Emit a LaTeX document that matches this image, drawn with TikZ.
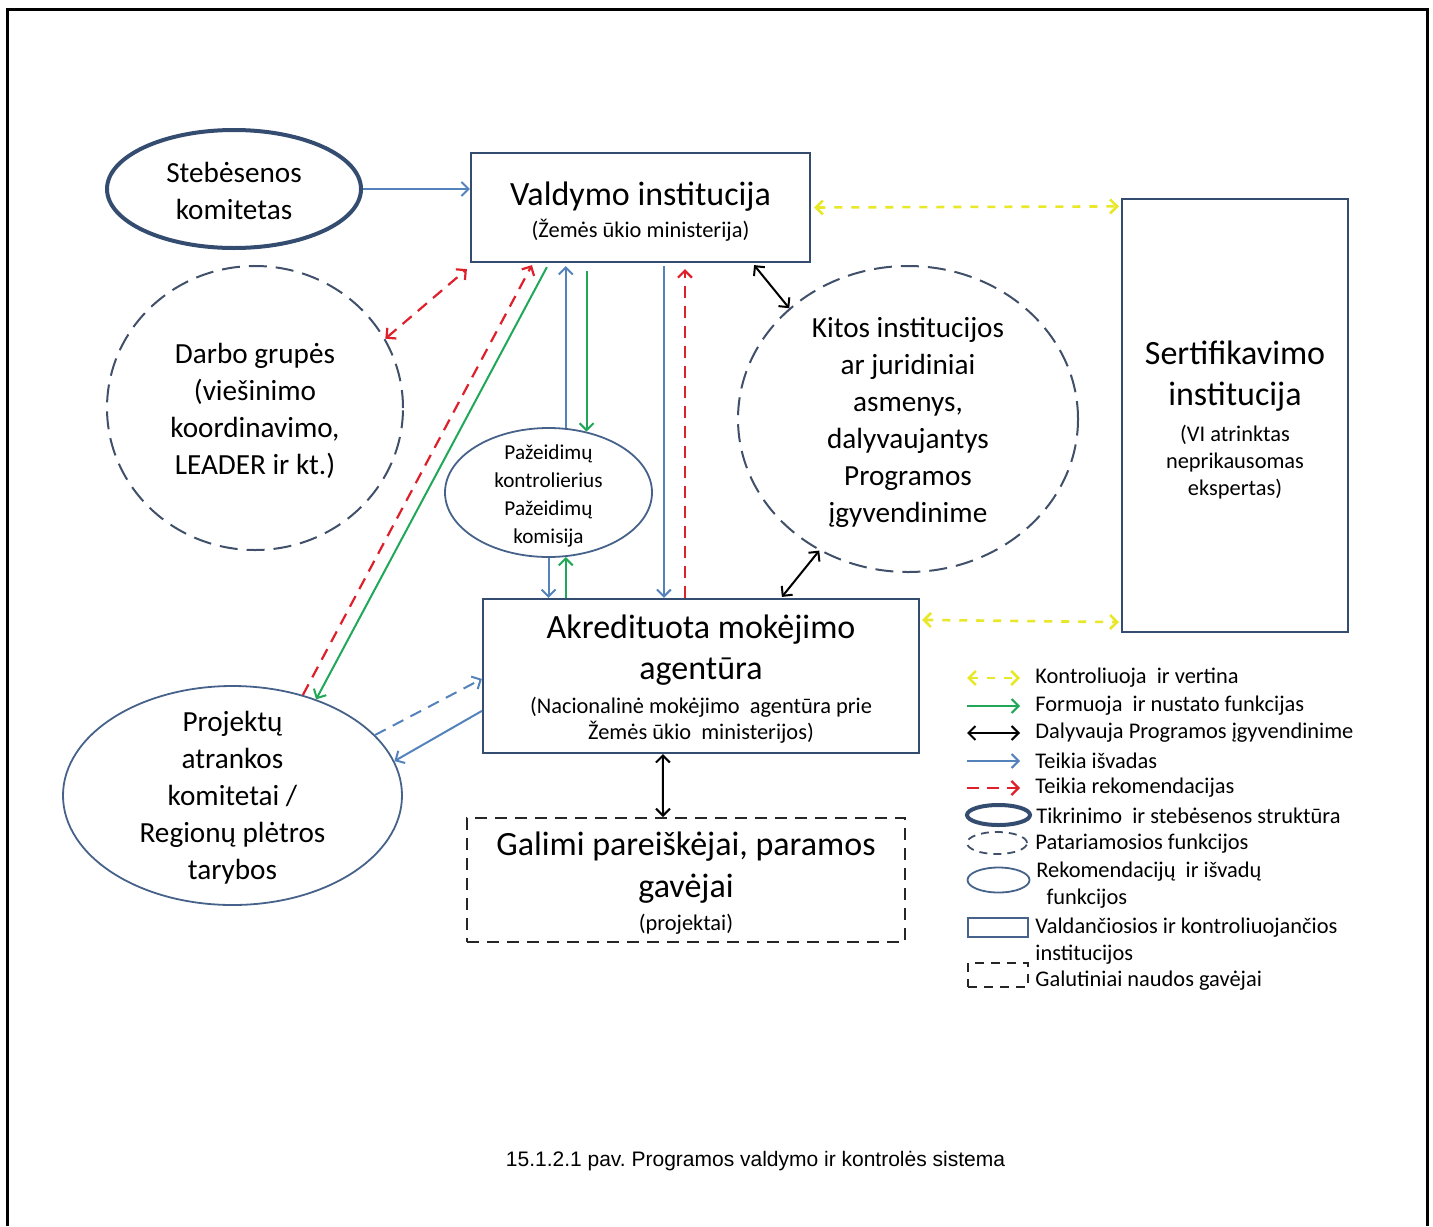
\documentclass[tikz,border=0pt]{standalone}
\usepackage{fontspec}
\setmainfont{Carlito}
\newfontfamily\capfont{Liberation Sans}
\usepackage{tikz}
\usetikzlibrary{positioning, arrows.meta, shapes.geometric}
\lineskiplimit=-100pt
\frenchspacing

\definecolor{frameblue}{RGB}{52,76,112}
\definecolor{thinblue}{RGB}{70,98,138}
\definecolor{arrblue}{RGB}{84,130,187}
\definecolor{dashgray}{RGB}{64,80,106}
\definecolor{okgreen}{RGB}{32,168,88}
\definecolor{recred}{RGB}{222,32,42}
\definecolor{ctrlyellow}{RGB}{232,232,40}

\newcommand{\fbig}{\fontsize{17}{20.5}\selectfont}
\newcommand{\fmid}{\fontsize{14.6}{18.5}\selectfont}
\newcommand{\fleg}{\fontsize{11.2}{13.5}\selectfont}

\tikzstyle{instbox}=[draw=frameblue, line width=1.1pt, rectangle, inner sep=0pt]
\tikzstyle{monell}=[draw=frameblue, line width=2pt, ellipse, inner sep=0pt]
\tikzstyle{advell}=[draw=dashgray, line width=1pt, dash pattern=on 9pt off 4.5pt, ellipse, inner sep=0pt]
\tikzstyle{recell}=[draw=thinblue, line width=0.9pt, ellipse, inner sep=0pt]
\tikzstyle{benbox}=[draw=black!85, line width=1pt, dash pattern=on 6pt off 4pt, rectangle, inner sep=0pt]
\tikzstyle{txt}=[align=center, inner sep=0pt]
\tikzstyle{legtxt}=[anchor=west, align=left, inner sep=0pt, font=\fleg]
\tikzstyle{ctrlarr}=[ctrlyellow, line width=1.3pt, dash pattern=on 4pt off 4.5pt]
\tikzstyle{formarr}=[okgreen, line width=1pt]
\tikzstyle{partarr}=[black, line width=1pt]
\tikzstyle{conclarr}=[arrblue, line width=1pt]
\tikzstyle{recomarr}=[recred, line width=1.1pt, dash pattern=on 6pt off 4pt]

\begin{document}
\begin{tikzpicture}[x=0.5pt, y=-0.5pt, >={Straight Barb[length=3.5pt,width=7pt]}]
\useasboundingbox (0,0) rectangle (1433,1226);
\draw[line width=1.5pt] (7,1226) -- (7,9) -- (1427,9) -- (1427,1226);

\node[instbox, minimum width=169.5pt, minimum height=54.5pt] (valdymo) at (640.5,207.5) {};
\node[txt, font=\fontsize{11.2}{16}\selectfont] (valdymotxt) at ([yshift=-2pt]valdymo.center) {{\fbig Valdymo institucija}\\(Žemės ūkio ministerija)};
\node[monell, minimum width=127pt, minimum height=59pt] (stebes) at (234,189) {};
\node[txt, font=\fmid] (stebestxt) at ([yshift=-1pt]stebes.center) {Stebėsenos\\komitetas};
\node[advell, minimum width=148pt, minimum height=142pt] (darbo) at (255,408) {};
\node[txt, font=\fmid] (darbotxt) at ([yshift=-1.5pt]darbo.center) {Darbo grupės\\(viešinimo\\koordinavimo,\\LEADER ir kt.)};
\node[recell, minimum width=103.5pt, minimum height=64.5pt] (pazeid) at (548.5,492.5) {};
\node[txt, font=\fontsize{10.6}{14}\selectfont] (pazeidtxt) at ([yshift=-1.5pt]pazeid.center) {Pažeidimų\\kontrolierius\\Pažeidimų\\komisija};
\node[advell, minimum width=170pt, minimum height=153pt] (kitos) at (908,419) {};
\node[txt, font=\fmid] (kitostxt) at ([yshift=-1.5pt]kitos.center) {Kitos institucijos\\ar juridiniai\\asmenys,\\dalyvaujantys\\Programos\\įgyvendinime};
\node[instbox, minimum width=113pt, minimum height=216.5pt] (sertif) at (1235,415.5) {};
\node[txt, font=\fontsize{11.2}{13.5}\selectfont] (sertiftxt) at ([yshift=-2pt]sertif.center) {{\fbig Sertifikavimo}\\[7pt]{\fbig institucija}\\[4.5pt](VI atrinktas\\neprikausomas\\ekspertas)};
\node[instbox, minimum width=218pt, minimum height=77pt] (akred) at (701,676) {};
\node[txt, font=\fontsize{11.2}{13}\selectfont] (akredtxt) at ([yshift=-1.5pt]akred.center) {{\fbig Akredituota mokėjimo}\\[7.5pt]{\fbig agentūra}\\[4pt](Nacionalinė mokėjimo\ \ agentūra prie\\Žemės ūkio\ \ ministerijos)};
\node[benbox, minimum width=219pt, minimum height=62pt] (galimi) at (686,880) {};
\node[txt, font=\fontsize{11.2}{16.5}\selectfont] (galimitxt) at ([yshift=-1.5pt]galimi.center) {{\fbig Galimi pareiškėjai, paramos}\\[4.5pt]{\fbig gavėjai}\\(projektai)};
\node[recell, minimum width=169.5pt, minimum height=109.5pt] (proj) at (232.5,795.5) {};
\node[txt, font=\fmid] (projtxt) at ([yshift=-1pt]proj.center) {Projektų\\atrankos\\komitetai /\\Regionų plėtros\\tarybos};

\path[->, conclarr] (stebes) edge (stebes -| valdymo.west);
\path[<->, recomarr] (darbo.28) edge ([xshift=-1.5pt, yshift=-3pt]valdymo.south west);
\path[<->, partarr] ([xshift=-28.5pt, yshift=-1pt]valdymo.south east) edge (kitos.137);
\path[<->, partarr] (kitos.236) edge ([xshift=150pt, yshift=0.5pt]akred.north west);
\path[<->, ctrlarr] ([xshift=1.5pt]valdymo.east) edge ([xshift=-1pt, yshift=-4.25pt]sertif.north west);
\path[<->, ctrlarr] ([xshift=1pt, yshift=-11pt]akred.north east) edge ([xshift=-1pt, yshift=5.5pt]sertif.south west);
\path[<->, partarr] ([xshift=90.5pt]akred.south west) edge ([xshift=98.5pt]galimi.north west);
\path[->, conclarr, shorten >=1.5pt] (pazeid.75) edge (pazeid.75 |- valdymo.south);
\path[->, formarr, shorten <=4pt] (pazeid.58 |- valdymo.south) edge (pazeid.58);
\path[->, conclarr] (pazeid.south) edge (pazeid.south |- akred.north);
\path[->, formarr] (pazeid.-75 |- akred.north) edge (pazeid.-75);
\path[->, conclarr, shorten <=1.5pt] ([xshift=97pt]valdymo.south west) edge ([xshift=91pt]akred.north west);
\path[->, recomarr] ([xshift=101.5pt]akred.north west) edge ([xshift=107.5pt, yshift=-3pt]valdymo.south west);
\path[->, recomarr] (proj.55) edge ([xshift=31pt, yshift=-1pt]valdymo.south west);
\path[->, formarr] ([xshift=38.5pt, yshift=-2pt]valdymo.south west) edge (proj.49);
\path[->, conclarr, dash pattern=on 6pt off 4pt] (proj.23) edge ([yshift=-40.5pt]akred.north west);
\path[->, conclarr] ([yshift=-56.5pt]akred.north west) edge (proj.12);

\node[legtxt] (leg1) at (1035,678) {Kontroliuoja\ \ ir vertina};
\node[legtxt] (leg2) at (1035,706) {Formuoja\ \ ir nustato funkcijas};
\node[legtxt] (leg3) at (1035,733) {Dalyvauja Programos įgyvendinime};
\node[legtxt] (leg4) at (1035,761) {Teikia išvadas};
\node[legtxt] (leg5) at (1035,788) {Teikia rekomendacijas};
\node[legtxt] (leg6) at (1036,816) {Tikrinimo\ \ ir stebėsenos struktūra};
\node[legtxt] (leg7) at (1035,844) {Patariamosios funkcijos};
\node[legtxt] (leg8) at (1036,885) {Rekomendacijų\ \ ir išvadų\\\ \ funkcijos};
\node[legtxt] (leg9) at (1035,941) {Valdančiosios ir kontroliuojančios\\institucijos};
\node[legtxt] (leg10) at (1035,981) {Galutiniai naudos gavėjai};

\path[<->, ctrlarr] ([xshift=-34pt]leg1.west) edge ([xshift=-7.5pt]leg1.west);
\path[->, formarr] ([xshift=-34pt]leg2.west) edge ([xshift=-7.5pt]leg2.west);
\path[<->, partarr] ([xshift=-34pt]leg3.west) edge ([xshift=-7.5pt]leg3.west);
\path[->, conclarr] ([xshift=-34pt]leg4.west) edge ([xshift=-7.5pt]leg4.west);
\path[->, recomarr] ([xshift=-34pt]leg5.west) edge ([xshift=-7.5pt]leg5.west);
\node[monell, minimum width=31.5pt, minimum height=10pt] (legmon) at (998.5,815) {};
\node[advell, line width=0.9pt, dash pattern=on 4pt off 3pt, minimum width=30pt, minimum height=11pt] (legadv) at (997,843) {};
\node[recell, minimum width=31pt, minimum height=12.5pt] (legrec) at (998.5,880) {};
\node[instbox, draw=thinblue, minimum width=30pt, minimum height=9.5pt] (leginst) at (998,927.5) {};
\node[benbox, dash pattern=on 4.5pt off 3.5pt, minimum width=30pt, minimum height=12pt] (legben) at (998,975) {};

\node[font=\capfont\fontsize{10.5}{12}\selectfont] (caption) at (755.5,1161) {15.1.2.1 pav. Programos valdymo ir kontrolės sistema};
\end{tikzpicture}
\end{document}
